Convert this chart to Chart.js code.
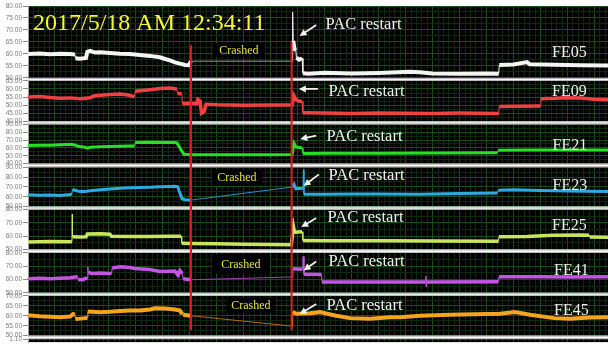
<!DOCTYPE html>
<html>
<head>
<meta charset="utf-8">
<script src="https://cdn.jsdelivr.net/npm/chart.js@4.4.1/dist/chart.umd.min.js"></script>
<style>
  html, body { margin: 0; padding: 0; background: #fff; }
  #wrap { width: 608px; height: 347px; }
</style>
</head>
<body>
<div id="wrap"><canvas id="strips" width="608" height="347"></canvas></div>
<script>
// Marcas de tiempo del evento (mismas unidades que el eje x)
const crashT = 60.4;
const restartT = 97.7;
const timeMax = 215;

// Etiquetas del eje y de cada franja
const fe05Ticks = [80, 75, 70, 65, 60, 55, 50];
const fe09Ticks = [65, 60, 55, 50, 45, 40];
const fe21Ticks = [90, 80, 70, 60, 50, 40];
const fe23Ticks = [90, 80, 70, 60, 50];
const fe25Ticks = [80, 70, 60, 50];
const fe41Ticks = [80, 70, 60, 50];
const fe45Ticks = [70, 65, 60, 55, 50];
const stubTicks = [1.10];

// Series [tiempo, valor]
const fe05 = [[0,60.0],[4.4,60.2],[8.2,59.9],[11.9,60.1],[15.6,60.0],[17.4,59.8],[17.6,58.2],[19.3,58.0],[21.5,58.3],[22.0,60.9],[23.0,61.3],[24.8,60.6],[26.7,60.7],[30.4,60.4],[34.1,60.1],[37.8,60.0],[41.5,59.6],[45.2,59.2],[48.9,58.6],[50.8,57.9],[52.6,57.3],[54.5,56.5],[56.3,56.0],[58.2,55.4],[59.6,55.3],[60.4,57.0],
  [97.9,57.0],[98.1,77.5],[98.3,65.5],[98.8,62.0],[99.3,61.5],[99.5,58.5],[100.5,57.6],[101.6,58.2],[101.9,52.0],[104,51.8],[110,52.2],[120,51.9],[130,52.1],[141.6,52.6],[145.3,52.4],[150,51.9],[160,51.8],[170,51.9],[174.5,51.8],[174.7,55.4],[180,55.6],[185,56.6],[186,55.7],[195,55.5],[205,55.3],[215,55.2]];
const fe09 = [[0,55.0],[4.4,55.3],[8.2,54.7],[11.9,54.2],[15.6,54.5],[19.3,54.0],[23.0,54.6],[24.8,55.8],[27.0,56.2],[30.4,56.6],[34.1,56.9],[37.2,56.3],[38.9,55.4],[39.5,55.2],[39.7,58.6],[41.5,58.9],[45.2,59.6],[48.9,60.3],[52.6,60.6],[54.5,60.2],[55.2,60.0],[55.4,57.2],[57.0,57.0],[57.2,51.0],[60.4,51.2],[62.6,51.0],[63.0,53.6],[63.8,52.5],[64.3,45.0],[65.3,46.0],[66.0,50.5],[70,50.2],[80,49.9],[90,50.1],[97.9,50.1],[98.5,56.0],[99.3,53.5],[100.3,52.5],[101.6,52.3],[101.9,45.3],[110,45.1],[120,44.9],[130,45.2],[140,45.0],[150,44.9],[160,45.1],[174.5,44.9],[174.7,49.2],[180,49.3],[189.9,49.4],[190.1,54.0],[195,54.2],[200,54.6],[205,54.4],[210,53.7],[215,53.3]];
const fe21 = [[0,63.0],[4.4,63.3],[8.2,63.5],[11.9,64.0],[15.6,64.6],[17.4,63.8],[18.5,62.0],[21.1,60.8],[22.2,59.8],[23.0,61.0],[26.7,61.4],[30.4,61.8],[34.1,62.0],[37.8,62.4],[39.5,62.6],[39.7,67.0],[45.2,67.2],[50.8,66.8],[54.5,66.9],[55.2,66.4],[56.5,59.0],[57.8,52.0],[60.4,51.5],[70,51.5],[80,51.4],[90,51.5],[97.9,51.6],[98.6,66.0],[99.4,61.0],[101.6,60.2],[101.9,53.0],[110,53.2],[130,53.4],[150,53.6],[174.0,53.8],[174.3,57.0],[185,57.3],[200,57.4],[215,57.5]];
const fe23 = [[0,62.0],[4.4,61.6],[8.2,61.8],[11.9,61.3],[15.6,62.2],[16.3,62.8],[16.5,67.5],[17.4,66.5],[19.3,65.2],[21.1,65.4],[23.0,66.0],[26.7,67.0],[30.4,67.8],[34.1,68.6],[37.8,69.0],[41.5,69.4],[45.2,69.7],[48.9,70.1],[52.6,70.4],[54.5,70.6],[55.5,70.0],[56.0,66.0],[57.1,58.0],[58.2,57.0],[60.4,56.6],
  [97.9,69.8],[98.6,72.5],[99.3,68.0],[100.5,68.5],[101.9,68.0],[102.1,87.5],[102.3,62.4],[110,62.6],[120,62.8],[130,62.7],[145,62.5],[160,63.2],[174.0,63.8],[174.3,66.6],[180,67.0],[190,66.4],[200,65.8],[215,65.4]];
const fe25 = [[0,55.6],[8.2,55.9],[15.6,55.7],[16.3,56.0],[16.4,76.4],[16.5,59.6],[19.3,59.4],[21.5,59.6],[22.0,61.6],[26.7,61.8],[30.4,61.4],[31.0,59.9],[37.8,59.7],[45.2,59.8],[52.6,59.9],[56.8,60.0],[57.0,54.6],[60.4,54.5],[70,54.3],[80,54.0],[90,53.8],[97.6,53.5],[98.4,67.0],[98.8,63.0],[101.6,63.3],[101.9,56.8],[110,56.6],[130,56.5],[150,56.4],[174.4,56.1],[174.6,59.6],[185,59.7],[194.6,60.6],[205,60.8],[208,60.6],[208.3,59.3],[215,59.1]];
const fe41 = [[0,60.6],[4.4,60.9],[8.2,60.5],[11.9,61.0],[15.6,61.3],[17.4,61.9],[18.4,62.0],[18.6,59.8],[20.5,59.9],[21.1,60.8],[22.1,60.9],[22.2,69.5],[22.3,65.5],[23.5,64.6],[26.7,64.8],[30.4,64.6],[31.0,64.5],[31.2,68.7],[34.1,69.5],[37.8,69.0],[39.7,68.3],[45.2,67.5],[48.9,66.0],[52.6,66.2],[54.5,66.3],[55.6,63.3],[56.3,66.8],[57.2,64.5],[57.5,60.6],[60.4,59.8],
  [97.9,61.9],[98.2,68.0],[101.8,67.8],[102.0,77.4],[102.3,63.9],[108.8,63.8],[109.0,58.1],[130,58.2],[147.4,58.1],[147.5,62.6],[147.6,54.4],[147.7,58.2],[174.4,58.3],[174.6,62.0],[190,62.1],[200,61.9],[215,62.0]];
const fe45 = [[0,60.3],[4.4,59.8],[8.2,59.5],[11.9,59.3],[15.6,59.6],[16.7,60.8],[17.4,60.6],[17.6,58.3],[21.1,58.8],[22.0,59.0],[22.2,62.1],[26.7,61.8],[30.4,62.0],[34.1,62.4],[37.8,62.6],[41.5,62.6],[45.2,63.1],[47.1,63.7],[50.8,63.6],[52.6,63.4],[54.5,63.1],[56.3,62.6],[57.2,60.8],[57.5,60.5],[60.4,60.0],
  [97.9,54.8],[98.1,61.8],[99.5,61.0],[104.5,61.2],[108.2,61.8],[113.8,60.1],[119.3,58.8],[126.8,58.5],[134.2,59.2],[137.9,59.3],[145.3,60.0],[156.4,60.5],[170,60.9],[175,61.0],[180.5,61.9],[186.1,60.5],[195,58.8],[200.9,58.5],[208.3,59.1],[215,59.3]];

const seriesNames = ['FE05', 'FE09', 'FE21', 'FE23', 'FE25', 'FE41', 'FE45'];
const seriesData = [fe05, fe09, fe21, fe23, fe25, fe41, fe45];
const seriesTicks = [fe05Ticks, fe09Ticks, fe21Ticks, fe23Ticks, fe25Ticks, fe41Ticks, fe45Ticks];

// Estilo
const lineColors = ['#f4f4f4', '#f04040', '#26e026', '#2caae2', '#c8e65c', '#c255e4', '#f6a41e'];
const gapColors = ['#9c9c9c', '#f04040', '#26e026', '#2a8fc4', '#c8e65c', '#9a44b8', '#b06c1c'];
const lineWidths = [4, 3.5, 3, 3, 3.5, 3.5, 4];
const gridMajor = '#1b4b1b';
const gridMinor = '#0d290d';

// Alturas de franjas y separadores (px)
const panelHeights = [73, 41, 40, 40, 40.5, 40.5, 40.5];
const sepHeights = [3, 3, 3.5, 3, 3.5, 3, 3.5];
const stubHeight = 3;

// Anotaciones por franja (desplazamientos respecto a la línea de reinicio y al borde superior)
const pacText = [[34, 23], [37, 15], [35, 16.3], [37, 13.2], [36, 12.5], [37, 13.5], [35, 14.3]];
const pacArrow = [[24.7, 19, 8, 30], [26.3, 8, 7.3, 8], [24.7, 11.3, 8.7, 14.7], [27.3, 7.2, 12, 18.8],
                  [24.7, 8.5, 9.7, 17.5], [24.7, 8.5, 12, 17.5], [24.7, 8.3, 8, 18.3]];
const nameLabel = [[552, 51.3], [552, 15.3], [552.5, 25.7], [552.5, 23.2], [552, 20.8], [554, 21.8], [554, 19]];
// [franja, x0, x1, y0, y1] respecto a la línea de caída y al borde superior
const crashBoxes = [[0, 22, 74, 37, 51], [3, 21, 71, 2.5, 18.5], [5, 21, 79, 1.5, 20.5], [6, 36, 84, 2, 17]];

function stripAxis(ticks, height, weight) {
  const step = ticks[0] - ticks[1];
  const isLabel = v => ticks.some(t => Math.abs(t - v) < 1e-6);
  return {
    type: 'linear', position: 'left', stack: 'strips', stackWeight: height, weight: weight,
    bounds: 'data', min: Math.min(...ticks), max: Math.max(...ticks),
    border: { color: '#a0a0a0', width: 1 },
    grid: {
      color: c => (c.tick && isLabel(c.tick.value)) ? gridMajor : gridMinor,
      tickColor: c => (c.tick && isLabel(c.tick.value)) ? '#8c8c8c' : 'rgba(0,0,0,0)',
      tickLength: 5
    },
    ticks: {
      autoSkip: false, padding: 1, color: '#7c7c7c',
      font: { family: 'Liberation Sans', size: 6.5 },
      callback: v => isLabel(v) ? v.toFixed(2) : ''
    },
    afterBuildTicks: s => {
      const list = [];
      for (let v = s.min; v <= s.max + 1e-6; v += step / 2) list.push({ value: +v.toFixed(4) });
      s.ticks = list;
    },
    afterFit: s => { s.width = 28; }
  };
}

function gapAxis(height, weight) {
  return {
    type: 'linear', position: 'left', stack: 'strips', stackWeight: height, weight: weight,
    min: 0, max: 1, grid: { display: false }, border: { display: false }, ticks: { display: false }
  };
}

const scales = {
  x: {
    type: 'linear', position: 'bottom', min: 0, max: timeMax,
    border: { display: false },
    grid: { drawTicks: false, color: c => (c.tick && c.tick.value % 10 === 0) ? gridMajor : gridMinor },
    ticks: { display: false },
    afterBuildTicks: s => {
      const list = [];
      for (let v = 0; v <= timeMax; v += 2) list.push({ value: v });
      s.ticks = list;
    }
  }
};
let w = 100;
seriesNames.forEach((name, i) => {
  scales['y' + i] = stripAxis(seriesTicks[i], panelHeights[i], w--);
  scales['s' + i] = gapAxis(sepHeights[i], w--);
});
scales.stub = {
  type: 'linear', position: 'left', stack: 'strips', stackWeight: stubHeight, weight: w--,
  min: 0, max: Math.max(...stubTicks), border: { color: '#a0a0a0' },
  grid: { display: true, color: 'rgba(0,0,0,0)', tickColor: '#8c8c8c', tickLength: 5 },
  ticks: { padding: 1, color: '#7c7c7c', font: { family: 'Liberation Sans', size: 6.5 }, callback: v => v.toFixed(2) },
  afterBuildTicks: s => { s.ticks = stubTicks.map(v => ({ value: v })); },
  afterFit: s => { s.width = 28; }
};

// tramo sin datos: une el último punto antes de la caída con el primero tras el reinicio
const isGap = c => c.p0.parsed.x <= crashT + 0.01 && c.p1.parsed.x >= restartT - 0.01;

function arrow(ctx, x0, y0, x1, y1) {
  const ang = Math.atan2(y1 - y0, x1 - x0);
  ctx.beginPath();
  ctx.moveTo(x0, y0);
  ctx.lineTo(x1 - Math.cos(ang) * 4, y1 - Math.sin(ang) * 4);
  ctx.stroke();
  ctx.beginPath();
  ctx.moveTo(x1, y1);
  ctx.lineTo(x1 - Math.cos(ang) * 7 + Math.sin(ang) * 3.5, y1 - Math.sin(ang) * 7 - Math.cos(ang) * 3.5);
  ctx.lineTo(x1 - Math.cos(ang) * 7 - Math.sin(ang) * 3.5, y1 - Math.sin(ang) * 7 + Math.cos(ang) * 3.5);
  ctx.closePath();
  ctx.fill();
}

const stripDecor = {
  id: 'stripDecor',
  beforeDraw(chart) {
    const { ctx, chartArea: a } = chart;
    ctx.save();
    ctx.fillStyle = '#ffffff';
    ctx.fillRect(0, 0, chart.width, chart.height);
    ctx.fillStyle = '#000000';
    ctx.fillRect(a.left, a.top, a.right - a.left, a.bottom - a.top);
    ctx.restore();
  },
  afterDatasetsDraw(chart) {
    const { ctx, chartArea: a, scales: sc } = chart;
    const crashX = sc.x.getPixelForValue(crashT);
    const restartX = sc.x.getPixelForValue(restartT);
    ctx.save();

    // separadores blancos
    seriesNames.forEach((n, i) => {
      const s = sc['s' + i];
      ctx.fillStyle = '#ffffff';
      ctx.fillRect(a.left, s.top, a.right - a.left, s.bottom - s.top);
      ctx.fillStyle = '#b4b4b4';
      ctx.fillRect(a.left, s.top, a.right - a.left, 1);
      ctx.fillRect(a.left, s.bottom - 1, a.right - a.left, 1);
    });

    // cuadros "Crashed"
    crashBoxes.forEach(([p, x0, x1, y0, y1]) => {
      const top = sc['y' + p].top;
      ctx.fillStyle = '#000000';
      ctx.fillRect(crashX + x0, top + y0, x1 - x0, y1 - y0);
      ctx.fillStyle = '#e8e23e';
      ctx.font = '12px "Liberation Serif"';
      ctx.textAlign = 'center';
      ctx.textBaseline = 'middle';
      ctx.fillText('Crashed', crashX + (x0 + x1) / 2, top + (y0 + y1) / 2 + 0.5);
    });

    // líneas rojas de caída y reinicio
    ctx.strokeStyle = '#e01a1a';
    ctx.lineWidth = 2;
    ctx.beginPath();
    ctx.moveTo(crashX, sc.y0.getPixelForValue(63.6));
    ctx.lineTo(crashX, sc.y6.getPixelForValue(52.7));
    ctx.moveTo(restartX, sc.y0.getPixelForValue(65.2));
    ctx.lineTo(restartX, sc.y6.getPixelForValue(52.7));
    ctx.stroke();

    // textos "PAC restart", flechas y nombres
    ctx.textAlign = 'left';
    ctx.textBaseline = 'alphabetic';
    seriesNames.forEach((n, i) => {
      const top = sc['y' + i].top;
      ctx.fillStyle = '#f0f0f0';
      ctx.strokeStyle = '#f0f0f0';
      ctx.lineWidth = 1.8;
      ctx.font = '16.5px "Liberation Serif"';
      ctx.fillText('PAC restart', restartX + pacText[i][0], top + pacText[i][1]);
      const [ax0, ay0, ax1, ay1] = pacArrow[i];
      arrow(ctx, restartX + ax0, top + ay0, restartX + ax1, top + ay1);
      ctx.font = '16px "Liberation Serif"';
      ctx.fillText(n, nameLabel[i][0], top + nameLabel[i][1]);
    });

    // título
    ctx.fillStyle = '#f8f43a';
    ctx.font = '24px "Liberation Serif"';
    ctx.fillText('2017/5/18 AM 12:34:11', a.left + 5, a.top + 24);
    ctx.restore();
  }
};

new Chart(document.getElementById('strips').getContext('2d'), {
  type: 'line',
  data: {
    datasets: seriesNames.map((name, i) => ({
      label: name,
      data: seriesData[i].map(([t, v]) => ({ x: t, y: v })),
      yAxisID: 'y' + i,
      borderColor: lineColors[i],
      borderWidth: lineWidths[i],
      pointRadius: 0,
      tension: 0,
      fill: false,
      segment: {
        borderWidth: c => (isGap(c) || c.p1.parsed.x - c.p0.parsed.x < 0.35) ? 1 : undefined,
        borderColor: c => isGap(c) ? gapColors[i] : undefined
      }
    }))
  },
  options: {
    responsive: false,
    maintainAspectRatio: false,
    animation: false,
    layout: { padding: { top: 6, bottom: 0, left: 0, right: 0 } },
    plugins: { legend: { display: false }, tooltip: { enabled: false } },
    scales: scales
  },
  plugins: [stripDecor]
});
</script>
</body>
</html>
